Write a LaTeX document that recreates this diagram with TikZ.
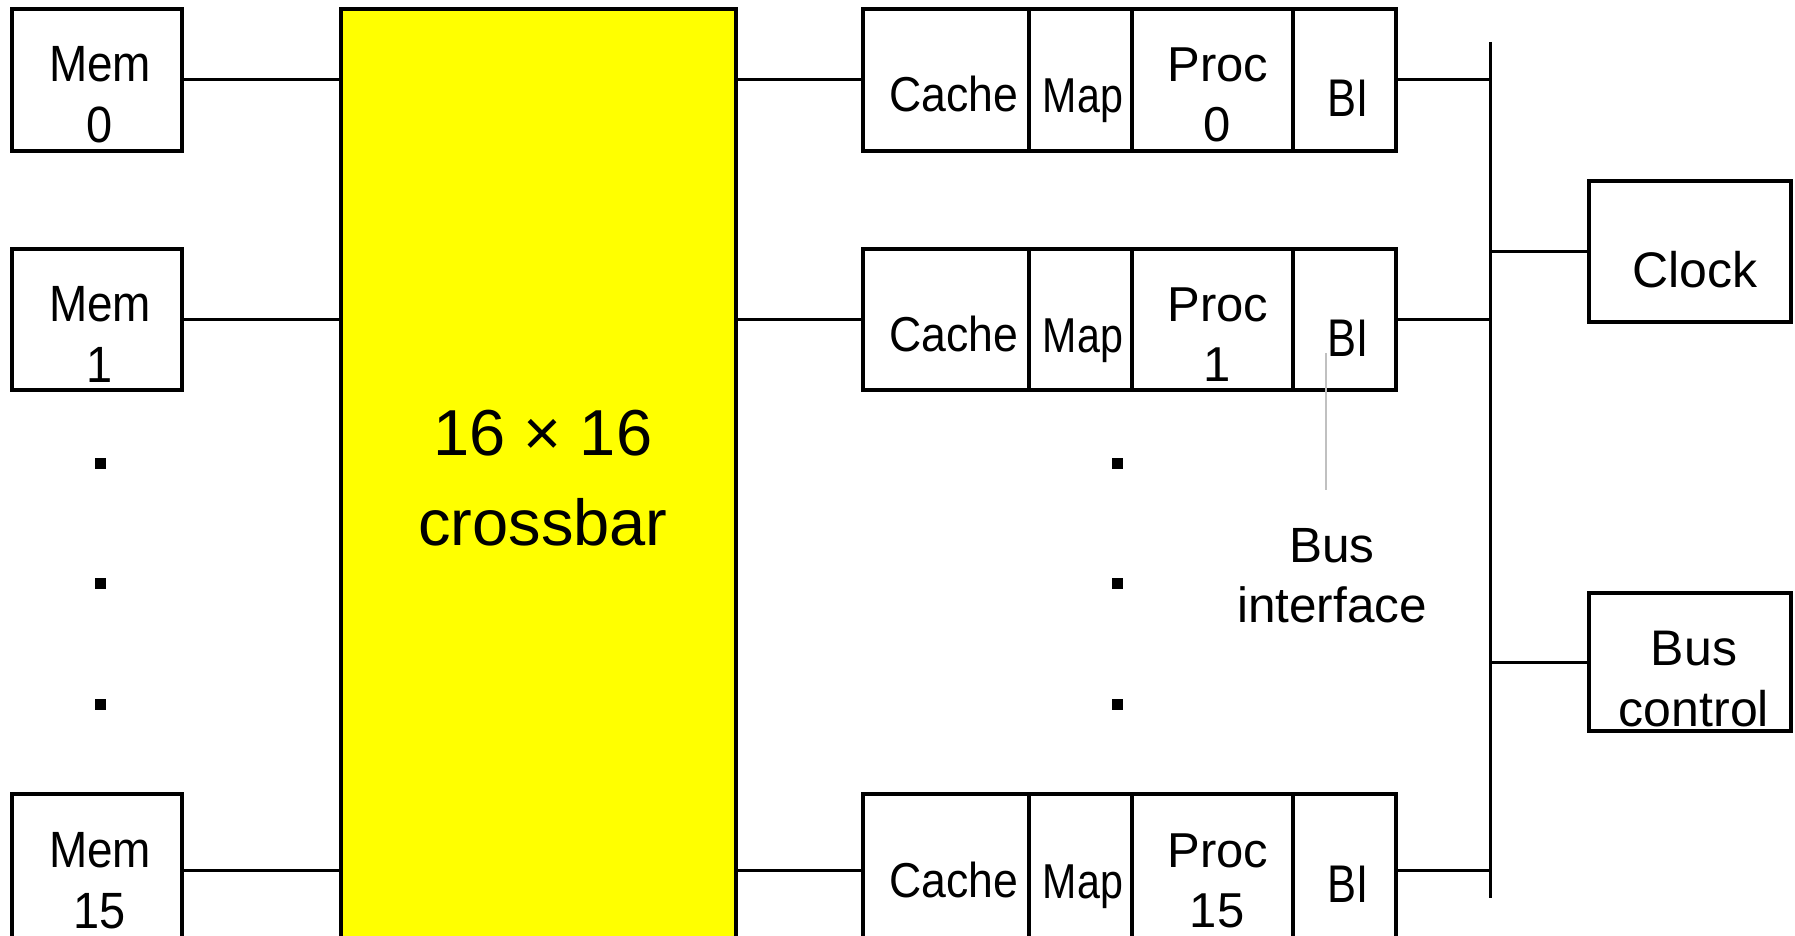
\documentclass[tikz,border=0pt]{standalone}
\usepackage{fontspec}
\setmainfont{Liberation Sans}
\usepackage{graphicx}
\usetikzlibrary{fit}
\definecolor{xbaryellow}{RGB}{255,255,0}
\definecolor{leadgray}{RGB}{192,192,192}
\newcommand\hsq[2]{\scalebox{#1}[1]{#2}}
\tikzset{
  x=0.5pt, y=-0.5pt,
  box/.style={draw, line width=1.75pt, inner sep=0pt},
  wire/.style={line width=1.5pt},
  lblA/.style={anchor=base, inner sep=0pt, font=\fontsize{25.5}{30}\selectfont},
  lblB/.style={anchor=base, inner sep=0pt, font=\fontsize{24.5}{29}\selectfont},
  lblC/.style={anchor=base, inner sep=0pt, font=\fontsize{25}{30}\selectfont},
  lblX/.style={anchor=base, inner sep=0pt, font=\fontsize{32.5}{38}\selectfont},
  dotsq/.style={fill=black, inner sep=0pt, minimum size=5.5pt},
  leader/.style={draw=leadgray, line width=1pt},
}
\begin{document}
\begin{tikzpicture}
\clip (0,0) rectangle (1795,936);
\fill[white] (0,0) rectangle (1795,936);

% crossbar
\node[box, fill=xbaryellow, fit={(341,9)(736,950)}] (xbar) {};
\node[lblX] (xbarA) at (543,455) {16 × 16};
\node[lblX] (xbarB) at (543,545) {crossbar};

% memories and processor rows
\foreach \n/\t/\h in {0/9/142, 1/249/141, 15/794/152} {
  \node[box, fit={(12,\t)(182,\t+\h)}] (mem\n) {};
  \node[lblA] (memtA\n) at (100,\t+73) {\hsq{0.9}{Mem}};
  \node[lblA] (memtB\n) at (100,\t+134) {\hsq{0.92}{\n}};
  \node[box, fit={(863,\t)(1029,\t+\h)}] (cache\n) {};
  \node[box, fit={(1029,\t)(1132,\t+\h)}] (map\n) {};
  \node[box, fit={(1132,\t)(1293,\t+\h)}] (proc\n) {};
  \node[box, fit={(1293,\t)(1396,\t+\h)}] (bi\n) {};
  \node[lblB] (cachet\n) at (954,\t+103) {\hsq{0.91}{Cache}};
  \node[lblB] (mapt\n) at (1083,\t+104) {\hsq{0.84}{Map}};
  \node[lblB] (proctA\n) at (1218,\t+73) {Proc};
  \node[lblB] (proctB\n) at (1217,\t+133) {\n};
  \node[lblB, font=\fontsize{26.5}{30}\selectfont] (bit\n) at (1348.5,\t+108) {\hsq{0.82}{BI}};
}

% bus
\coordinate (bustop) at (1490,42);
\coordinate (busbot) at (1490,898);
\draw[wire] (bustop) -- (busbot);

\foreach \n in {0,1,15} {
  \draw[wire] (mem\n.east) -- (xbar.west |- mem\n.east);
  \draw[wire] (xbar.east |- cache\n.west) -- (cache\n.west);
  \draw[wire] (bi\n.east) -- (bi\n.east -| bustop);
}

% clock and bus control
\node[box, fit={(1589,181)(1791,322)}] (clock) {};
\node[lblC] (clockt) at (1695,288) {Clock};
\node[box, fit={(1589,593)(1791,731)}] (busctl) {};
\node[lblC] (busctlA) at (1694,665) {Bus};
\node[lblC] (busctlB) at (1694,726) {control};
\draw[wire] (clock.west -| bustop) -- (clock.west);
\draw[wire] (busctl.west -| bustop) -- (busctl.west);

% bus interface callout
\coordinate (bitip) at (1326,353);
\coordinate (biend) at (1326,490);
\draw[leader] (bitip) -- (biend);
\node[lblB, font=\fontsize{24.75}{30}\selectfont] (bilblA) at (1332,562) {Bus};
\node[lblB, font=\fontsize{24.75}{30}\selectfont] (bilblB) at (1332,622) {interface};

% ellipsis dots
\foreach \k/\y in {1/463, 2/583, 3/704} {
  \node[dotsq] (ldot\k) at (100,\y) {};
  \node[dotsq] (rdot\k) at (1117,\y) {};
}
\end{tikzpicture}
\end{document}
